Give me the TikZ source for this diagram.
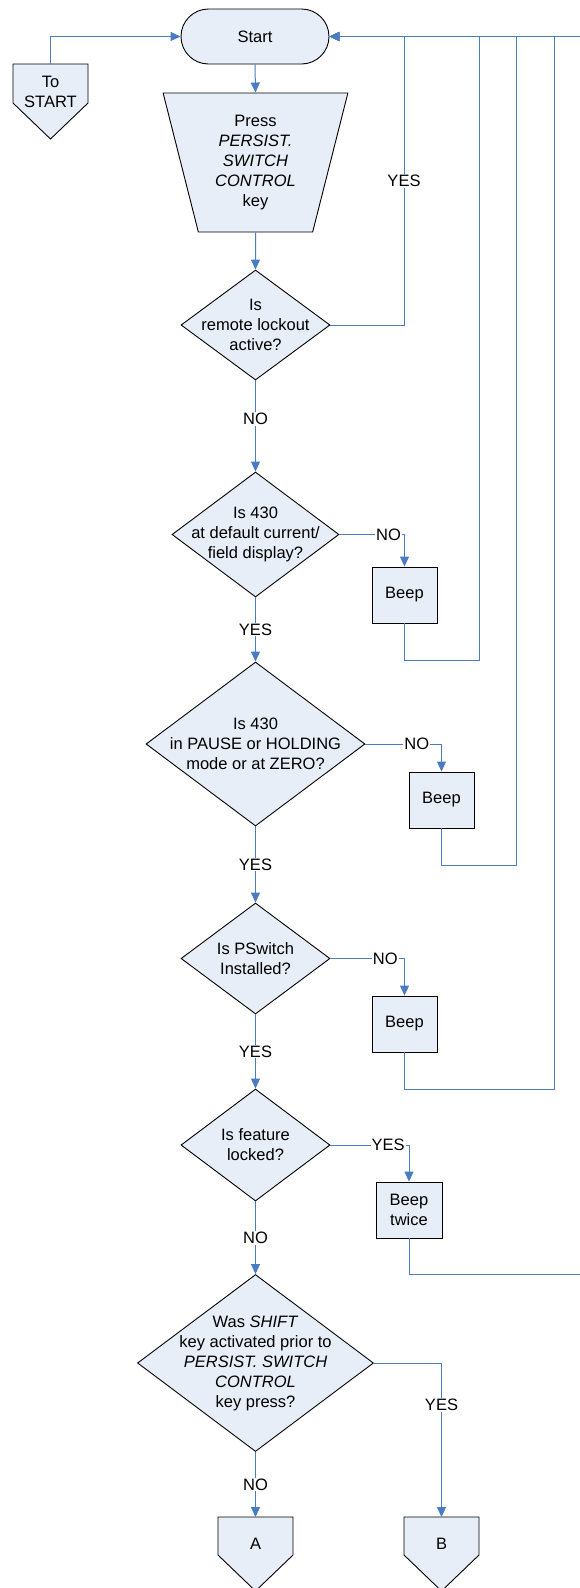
\documentclass[tikz,border=0pt]{standalone}
\usepackage{fontspec}
\setmainfont{Liberation Sans}
\usetikzlibrary{shapes.geometric,arrows.meta,calc}
\definecolor{cfill}{RGB}{232,238,247}
\definecolor{cline}{RGB}{74,124,196}
\begin{document}
\begin{tikzpicture}[x=1pt,y=-1pt,
  every node/.style={font=\fontsize{16.5}{20}\selectfont, text=black},
  shp/.style={draw=black, fill=cfill, line width=0.9pt},
  dia/.style={shp, diamond, inner sep=0pt},
  box/.style={shp, rectangle, minimum height=56pt, inner sep=0pt, align=center},
  txt/.style={align=center, inner sep=0pt},
  conn/.style={draw=cline, line width=1pt, -{Triangle[length=10pt,width=9pt]}},
  line/.style={draw=cline, line width=1pt},
  lab/.style={fill=white, inner sep=1pt},
]
\fill[white] (0,0) rectangle (580,1588);
\useasboundingbox (0,0) rectangle (580,1588);

% start / terminal
\node[shp, rounded corners=27.5pt, minimum width=148pt, minimum height=55pt, inner sep=0pt] (start) at (255,36.5) {Start};

% to start off-page connector
\coordinate (tsN) at (50.5,64);
\draw[shp] ($(tsN)+(-37.5,0)$) -- ++(75,0) -- ++(0,39) -- ++(-37.5,36) -- ++(-37.5,-36) -- cycle;
\node[txt] (tst) at (50.5,92) {To\\START};

% manual operation
\node[shp, trapezium, shape border rotate=180, trapezium angle=75.3, trapezium stretches=true,
      minimum width=185pt, minimum height=139pt, inner sep=0pt, align=center] (tr) at (255.5,162.5)
      {Press\\\textit{PERSIST.}\\\textit{SWITCH}\\\textit{CONTROL}\\key};

% decisions
\node[dia, minimum width=149pt, minimum height=110pt] (d1) at (255.5,325) {};
\node[txt] (d1t) at (d1) {Is\\remote lockout\\active?};
\node[dia, minimum width=167pt, minimum height=125pt] (d2) at (255.5,534.5) {};
\node[txt] (d2t) at (d2) {Is 430\\at default current/\\field display?};
\node[dia, minimum width=219pt, minimum height=164pt] (d3) at (255.5,744) {};
\node[txt] (d3t) at (d3) {Is 430\\in PAUSE or HOLDING\\mode or at ZERO?};
\node[dia, minimum width=149pt, minimum height=111pt] (d4) at (255.5,958.5) {};
\node[txt] (d4t) at (d4) {Is PSwitch\\Installed?};
\node[dia, minimum width=149pt, minimum height=112pt] (d5) at (255.5,1145) {};
\node[txt] (d5t) at (d5) {Is feature\\locked?};
\node[dia, minimum width=236pt, minimum height=177pt] (d6) at (255.5,1363) {};
\node[txt] (d6t) at (d6) {Was \textit{SHIFT}\\key activated prior to\\\textit{PERSIST. SWITCH}\\\textit{CONTROL}\\key press?};

% beeps
\node[box, minimum width=65pt] (b1) at (404.5,595) {Beep};
\node[box, minimum width=65pt] (b2) at (441.5,800) {Beep};
\node[box, minimum width=65pt] (b3) at (404.5,1024) {Beep};
\node[box, minimum width=66pt] (b4) at (409,1210) {Beep\\twice};

% A and B connectors
\coordinate (AN) at (255.5,1517);
\draw[shp] ($(AN)+(-37.5,0)$) -- ++(75,0) -- ++(0,38) -- ++(-37.5,36) -- ++(-37.5,-36) -- cycle;
\node[txt] (At) at (255.5,1544) {A};
\coordinate (BN) at (441.5,1517);
\draw[shp] ($(BN)+(-37.5,0)$) -- ++(75,0) -- ++(0,38) -- ++(-37.5,36) -- ++(-37.5,-36) -- cycle;
\node[txt] (Bt) at (441.5,1544) {B};

% route coordinates
\coordinate (r1) at (404,36.5);
\coordinate (r2a) at (479,660);
\coordinate (r2) at (479,36.5);
\coordinate (r3a) at (516,865);
\coordinate (r3) at (516,36.5);
\coordinate (r4a) at (554,1089);
\coordinate (r4) at (554,36.5);
\coordinate (e1) at (580,1274);
\coordinate (e2) at (580,36.5);

% connectors
\draw[conn] (tsN) |- (start.west);
\draw[conn] (start.south) -- (tr.north);
\draw[conn] (tr.south) -- (d1.north);
\draw[conn] (d1.east) -| node[lab,pos=0.75] (l1) {YES} (r1) -- (start.east);
\draw[conn] (d1.south) -- node[lab,pos=0.42] (l2) {NO} (d2.north);
\draw[conn] (d2.east) -| node[lab,pos=0.377] (l3) {NO} (b1.north);
\draw[conn] (b1.south) |- (r2a) -- (r2) -- (start.east);
\draw[conn] (d2.south) -- node[lab] (l4) {YES} (d3.north);
\draw[conn] (d3.east) -| node[lab,pos=0.338] (l5) {NO} (b2.north);
\draw[conn] (b2.south) |- (r3a) -- (r3) -- (start.east);
\draw[conn] (d3.south) -- node[lab] (l6) {YES} (d4.north);
\draw[conn] (d4.east) -| node[lab,pos=0.37] (l7) {NO} (b3.north);
\draw[conn] (b3.south) |- (r4a) -- (r4) -- (start.east);
\draw[conn] (d4.south) -- node[lab] (l8) {YES} (d5.north);
\draw[conn] (d5.east) -| node[lab,pos=0.367] (l9) {YES} (b4.north);
\draw[line] (b4.south) |- (e1);
\draw[conn] (e2) -- (start.east);
\draw[conn] (d5.south) -- node[lab] (l10) {NO} (d6.north);
\draw[conn] (d6.south) -- node[lab] (l11) {NO} (AN);
\draw[conn] (d6.east) -| node[lab,pos=0.636] (l12) {YES} (BN);
\end{tikzpicture}
\end{document}
